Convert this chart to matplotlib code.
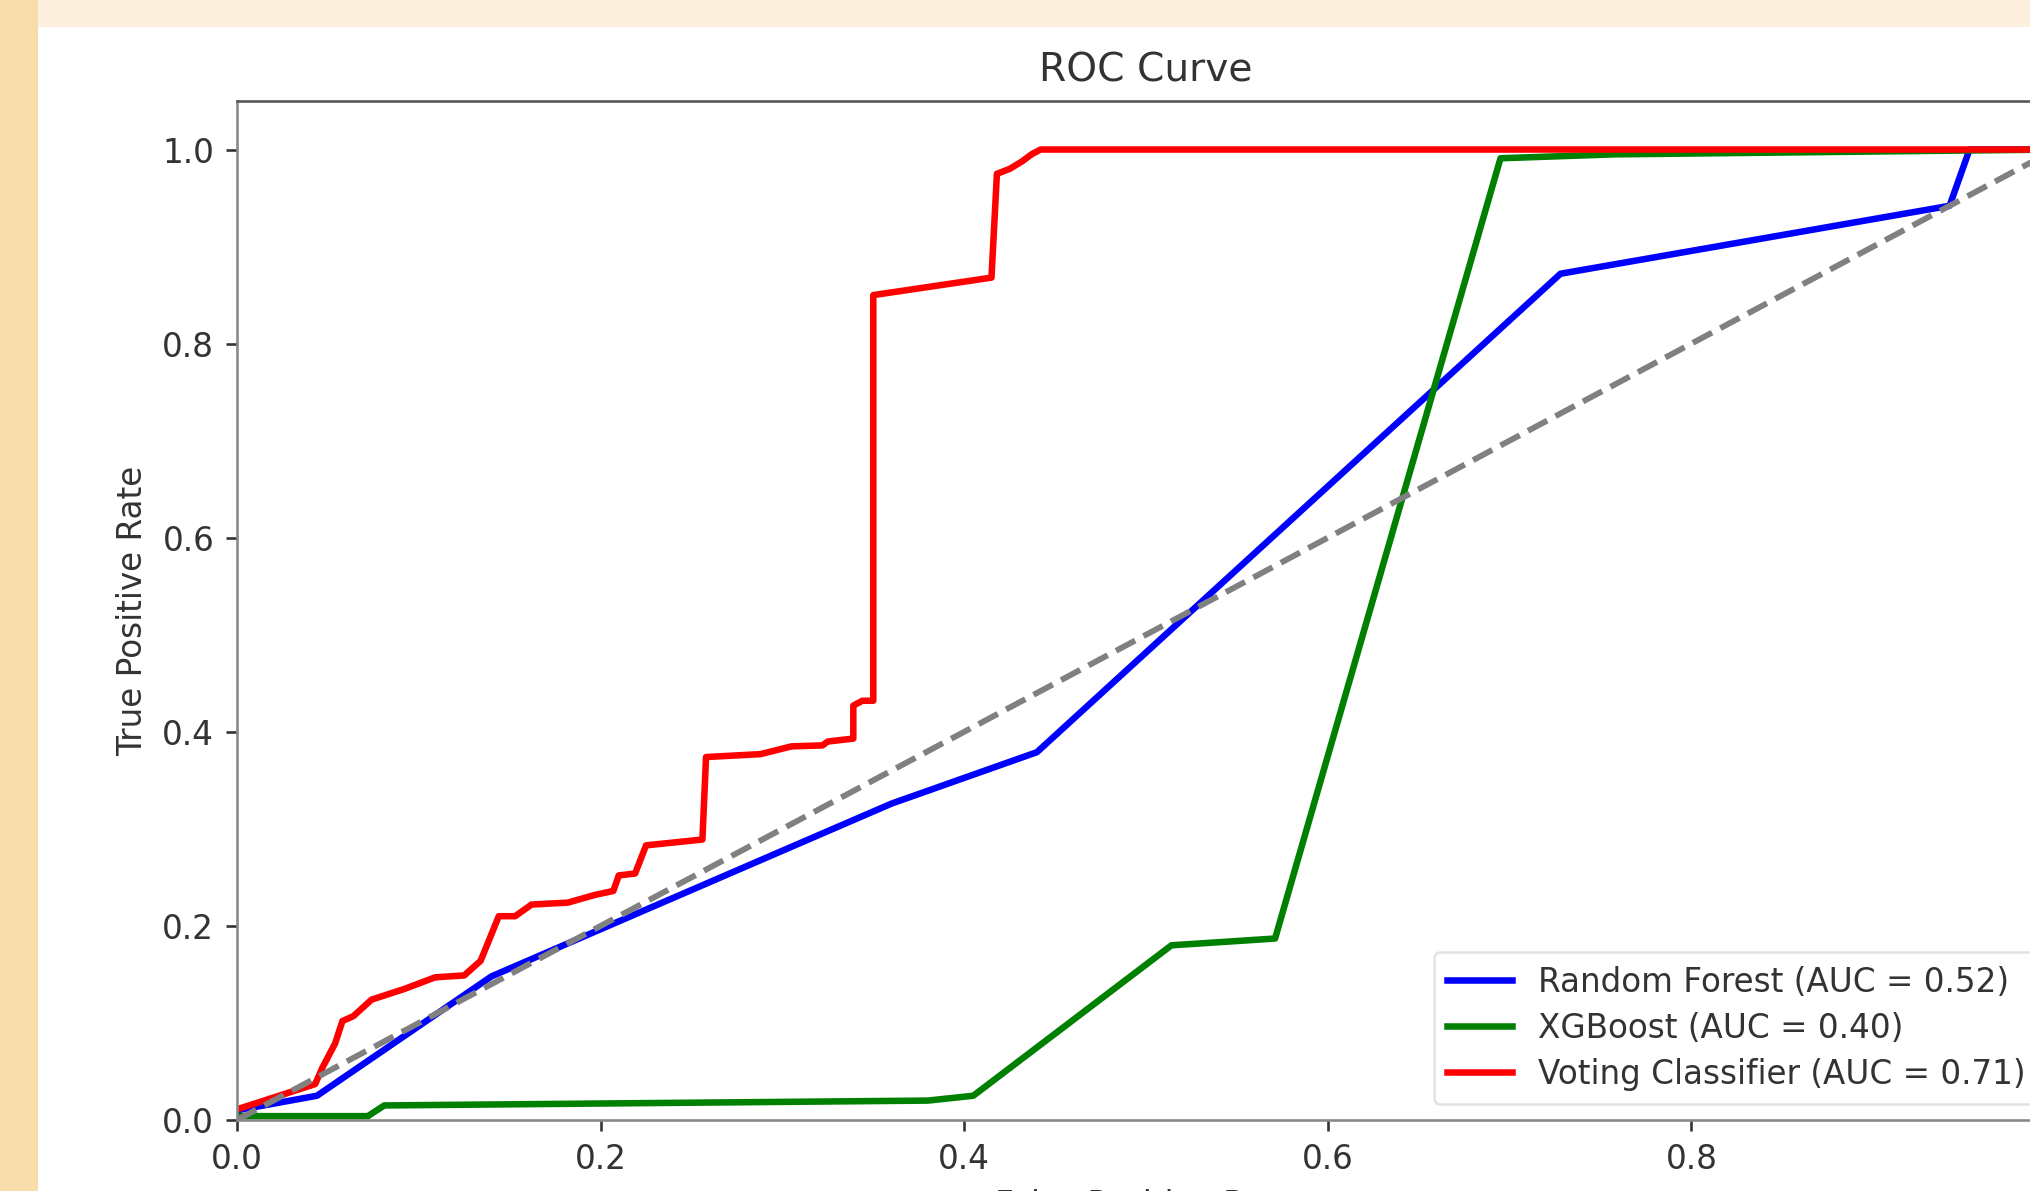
import matplotlib
matplotlib.use("Agg")
import matplotlib.pyplot as plt
from matplotlib.patches import Rectangle

# ROC curve points (FPR, TPR)
rf_fpr = [0.0, 0.044, 0.14, 0.36, 0.44, 0.728, 0.942, 0.953, 1.0]
rf_tpr = [0.01, 0.025, 0.148, 0.326, 0.379, 0.872, 0.942, 1.0, 1.0]

xgb_fpr = [0.0, 0.072, 0.081, 0.38, 0.405, 0.514, 0.571, 0.695, 0.757, 1.0]
xgb_tpr = [0.004, 0.004, 0.015, 0.02, 0.025, 0.18, 0.187, 0.991, 0.995, 1.0]

vc_fpr = [0.0, 0.043, 0.047, 0.054, 0.058, 0.064, 0.074, 0.092, 0.109, 0.125,
          0.134, 0.144, 0.153, 0.162, 0.182, 0.197, 0.207, 0.210, 0.219, 0.225,
          0.256, 0.258, 0.288, 0.305, 0.322, 0.325, 0.339, 0.339, 0.344, 0.350,
          0.350, 0.415, 0.418, 0.425, 0.432, 0.437, 0.442, 1.0]
vc_tpr = [0.011, 0.037, 0.054, 0.079, 0.102, 0.107, 0.124, 0.135, 0.147, 0.149,
          0.164, 0.210, 0.210, 0.222, 0.224, 0.232, 0.236, 0.252, 0.254, 0.283,
          0.289, 0.374, 0.377, 0.385, 0.386, 0.390, 0.393, 0.427, 0.432, 0.432,
          0.850, 0.868, 0.975, 0.980, 0.988, 0.995, 1.0, 1.0]

labels = ["Random Forest (AUC = 0.52)", "XGBoost (AUC = 0.40)", "Voting Classifier (AUC = 0.71)"]
colors = ["blue", "green", "red"]

S = 2.35  # the screenshot is an enlarged 100 dpi figure
W, H = 2030, 1191

fig = plt.figure(figsize=(W / 100, H / 100), dpi=100, facecolor="white")

# orange strips of the page behind the screenshot
fig.patches.append(Rectangle((0, 0), 38 / W, 1, transform=fig.transFigure,
                             facecolor="#f8dcaa", edgecolor="none", zorder=0))
fig.patches.append(Rectangle((38 / W, 1 - 27 / H), 1, 27 / H, transform=fig.transFigure,
                             facecolor="#fcefdb", edgecolor="none", zorder=0))

left, right, top, bottom = 237, 2055, 101, 1120
ax = fig.add_axes([left / W, 1 - bottom / H, (right - left) / W, (bottom - top) / H])

lw = 2 * S
ax.plot(rf_fpr, rf_tpr, color=colors[0], lw=lw, label=labels[0])
ax.plot(xgb_fpr, xgb_tpr, color=colors[1], lw=lw, label=labels[1])
ax.plot(vc_fpr, vc_tpr, color=colors[2], lw=lw, label=labels[2])
ax.plot([0, 1], [0, 1], color="gray", lw=lw * 0.9, linestyle="--")

ax.set_xlim(0.0, 1.0)
ax.set_ylim(0.0, 1.05)
ax.set_xticks([0.0, 0.2, 0.4, 0.6, 0.8, 1.0])
ax.set_yticks([0.0, 0.2, 0.4, 0.6, 0.8, 1.0])

txt = "#333333"
ax.tick_params(labelsize=10 * S, width=0.8 * S, length=3.5 * S,
               pad=3.5 * S, colors=txt)
for name, sp in ax.spines.items():
    sp.set_linewidth(0.8 * S)
    sp.set_color("#888888" if name in ("left", "bottom") else "#555555")

ax.set_title("ROC Curve", fontsize=12 * S, color=txt, pad=6 * S)
ax.set_xlabel("False Positive Rate", fontsize=10 * S, color=txt, labelpad=4 * S)
ax.set_ylabel("True Positive Rate", fontsize=10 * S, color=txt, labelpad=4 * S)

leg = ax.legend(loc="lower right", fontsize=10 * S, frameon=True,
                handlelength=2.0, borderpad=0.4, labelspacing=0.4)
leg.get_frame().set_linewidth(0.8 * S)
leg.get_frame().set_edgecolor("#dddddd")
for t in leg.get_texts():
    t.set_color(txt)

fig.savefig("out.png", dpi=100)
